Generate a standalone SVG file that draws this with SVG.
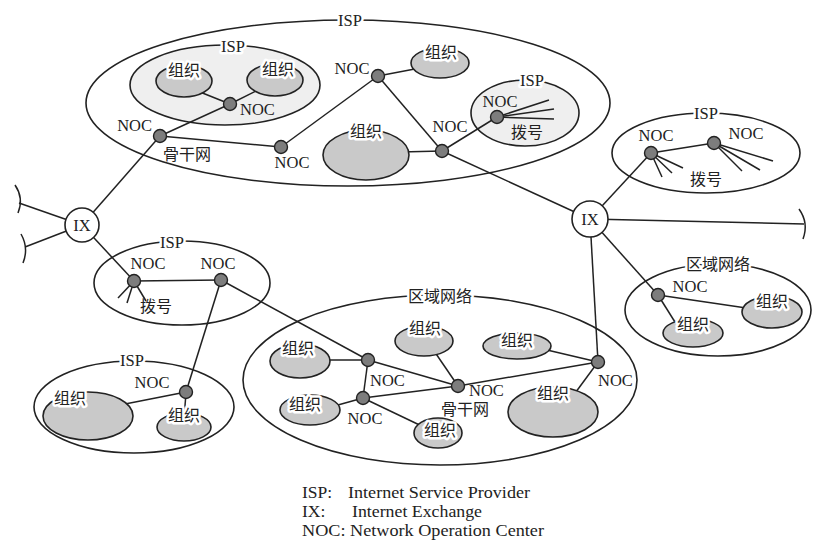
<svg xmlns="http://www.w3.org/2000/svg" width="840" height="548" viewBox="0 0 840 548">
<style>
.box{fill:#fff;stroke:#222;stroke-width:1.6}
.lbox{fill:#efefef;stroke:#222;stroke-width:1.6}
.org{fill:#c9c9c9;stroke:#222;stroke-width:1.6}
.dot{fill:#7d7d7d;stroke:#222;stroke-width:1.4}
.ix{fill:#fff;stroke:#222;stroke-width:1.6}
.ln{stroke:#222;stroke-width:1.5;fill:none}
text{font-family:"Liberation Serif","Noto Sans CJK SC",serif;fill:#222;font-size:16.5px}
.zh{font-family:"Liberation Serif","Noto Sans CJK SC",sans-serif;font-size:16px}
.halo{stroke:#fff;stroke-width:5;paint-order:stroke;stroke-linejoin:round}
.c{text-anchor:middle}
.e{text-anchor:end}
.lg{font-size:17.5px}
</style>
<rect width="840" height="548" fill="#fff"/>
<g id="containers">
<g id="isp-top"><ellipse class="box" cx="348" cy="103" rx="262" ry="83"/><text class="c halo" x="350" y="26">ISP</text></g>
<g id="isp-inner"><ellipse class="lbox" cx="225" cy="85" rx="95" ry="40"/><text class="c halo" x="233" y="52">ISP</text></g>
<g id="isp-dial"><ellipse class="lbox" cx="525" cy="113" rx="54" ry="33"/><text class="c halo" x="532" y="86">ISP</text></g>
<g id="isp-right"><ellipse class="box" cx="706" cy="153" rx="94" ry="40"/><text class="c halo" x="706" y="119">ISP</text></g>
<g id="isp-left"><ellipse class="box" cx="182" cy="283" rx="88" ry="42"/><text class="c halo" x="172" y="248">ISP</text></g>
<g id="isp-lowleft"><ellipse class="box" cx="134" cy="407" rx="100" ry="46"/><text class="c halo" x="132" y="366">ISP</text></g>
<g id="region-center"><ellipse class="box" cx="440" cy="380" rx="197" ry="85"/><text class="c zh halo" x="440" y="302">区域网络</text></g>
<g id="region-right"><ellipse class="box" cx="718" cy="310" rx="93" ry="46"/><text class="c zh halo" x="718" y="270">区域网络</text></g>
</g>
<g id="connectors" class="ln">
<line x1="160" y1="136" x2="230" y2="104"/>
<line x1="230" y1="104" x2="200" y2="92"/>
<line x1="230" y1="104" x2="262" y2="88"/>
<line x1="160" y1="136" x2="281" y2="147"/>
<line x1="281" y1="147" x2="378" y2="76"/>
<line x1="378" y1="76" x2="420" y2="68"/>
<line x1="378" y1="76" x2="442" y2="151"/>
<line x1="442" y1="151" x2="400" y2="152"/>
<line x1="442" y1="151" x2="497" y2="117"/>
<line x1="442" y1="151" x2="590" y2="219"/>
<line x1="497" y1="117" x2="549" y2="100"/>
<line x1="497" y1="117" x2="554" y2="109"/>
<line x1="497" y1="117" x2="554" y2="119"/>
<line x1="160" y1="136" x2="82" y2="225"/>
<line x1="82" y1="225" x2="19" y2="203"/>
<line x1="82" y1="225" x2="25" y2="247"/>
<path d="M15,185 Q24,198 18,213"/>
<path d="M21,234 Q29,248 23,263"/>
<line x1="82" y1="225" x2="134" y2="281"/>
<line x1="134" y1="281" x2="221" y2="280"/>
<line x1="134" y1="281" x2="118" y2="298"/>
<line x1="134" y1="281" x2="127" y2="303"/>
<line x1="134" y1="281" x2="146" y2="301"/>
<line x1="221" y1="280" x2="186" y2="392"/>
<line x1="221" y1="280" x2="368" y2="360"/>
<line x1="186" y1="392" x2="120" y2="405"/>
<line x1="186" y1="392" x2="184" y2="420"/>
<line x1="590" y1="219" x2="804" y2="224"/>
<path d="M799,209 Q809,223 803,239"/>
<line x1="590" y1="219" x2="651" y2="153"/>
<line x1="651" y1="153" x2="714" y2="143"/>
<line x1="651" y1="153" x2="662" y2="177"/>
<line x1="651" y1="153" x2="672" y2="173"/>
<line x1="651" y1="153" x2="683" y2="168"/>
<line x1="714" y1="143" x2="742" y2="171"/>
<line x1="714" y1="143" x2="760" y2="170"/>
<line x1="714" y1="143" x2="773" y2="161"/>
<line x1="590" y1="219" x2="598" y2="362"/>
<line x1="590" y1="219" x2="658" y2="295"/>
<line x1="658" y1="295" x2="760" y2="310"/>
<line x1="658" y1="295" x2="680" y2="330"/>
<line x1="368" y1="360" x2="310" y2="360"/>
<line x1="368" y1="360" x2="363" y2="398"/>
<line x1="368" y1="360" x2="458" y2="386"/>
<line x1="363" y1="398" x2="458" y2="386"/>
<line x1="363" y1="398" x2="320" y2="410"/>
<line x1="363" y1="398" x2="430" y2="430"/>
<line x1="458" y1="386" x2="430" y2="345"/>
<line x1="458" y1="386" x2="598" y2="362"/>
<line x1="598" y1="362" x2="530" y2="346"/>
<line x1="598" y1="362" x2="570" y2="400"/>
</g>
<g id="orgs">
<g id="org-t1"><ellipse class="org" cx="184" cy="81" rx="28" ry="16"/><text class="c zh halo" x="184" y="76">组织</text></g>
<g id="org-t2"><ellipse class="org" cx="275" cy="80" rx="28" ry="16"/><text class="c zh halo" x="278" y="75">组织</text></g>
<g id="org-t3"><ellipse class="org" cx="440" cy="63" rx="29" ry="15"/><text class="c zh halo" x="441" y="58">组织</text></g>
<g id="org-t4"><ellipse class="org" cx="366" cy="155" rx="43" ry="25"/><text class="c zh halo" x="366" y="137">组织</text></g>
<g id="org-ll1"><ellipse class="org" cx="88" cy="416" rx="45" ry="24"/><text class="c zh halo" x="70" y="404">组织</text></g>
<g id="org-ll2"><ellipse class="org" cx="184" cy="427" rx="27" ry="14"/><text class="c zh halo" x="184" y="421">组织</text></g>
<g id="org-c1"><ellipse class="org" cx="300" cy="361" rx="30" ry="17"/><text class="c zh halo" x="298" y="354">组织</text></g>
<g id="org-c2"><ellipse class="org" cx="424" cy="341" rx="29" ry="15"/><text class="c zh halo" x="425" y="334">组织</text></g>
<g id="org-c3"><ellipse class="org" cx="517" cy="346" rx="34" ry="13"/><text class="c zh halo" x="517" y="346">组织</text></g>
<g id="org-c4"><ellipse class="org" cx="310" cy="410" rx="30" ry="15"/><text class="c zh halo" x="305" y="410">组织</text></g>
<g id="org-c5"><ellipse class="org" cx="438" cy="433" rx="24" ry="15"/><text class="c zh halo" x="440" y="436">组织</text></g>
<g id="org-c6"><ellipse class="org" cx="553" cy="412" rx="45" ry="25"/><text class="c zh halo" x="553" y="399">组织</text></g>
<g id="org-r1"><ellipse class="org" cx="772" cy="312" rx="30" ry="16"/><text class="c zh halo" x="772" y="307">组织</text></g>
<g id="org-r2"><ellipse class="org" cx="693" cy="333" rx="30" ry="14"/><text class="c zh halo" x="693" y="330">组织</text></g>
</g>
<g id="ix-nodes">
<g id="ix-left"><circle class="ix" cx="82" cy="225" r="17"/><text class="c" x="82" y="231">IX</text></g>
<g id="ix-right"><circle class="ix" cx="590" cy="219" r="18"/><text class="c" x="590" y="225">IX</text></g>
</g>
<g id="nocs">
<g id="noc-inner"><circle class="dot" cx="230" cy="104" r="6.5"/><text x="240" y="115">NOC</text></g>
<g id="noc-left"><circle class="dot" cx="160" cy="136" r="6.5"/><text class="e" x="152" y="131">NOC</text><text class="zh" x="163" y="160">骨干网</text></g>
<g id="noc-bottom"><circle class="dot" cx="281" cy="147" r="6.5"/><text class="c" x="292" y="168">NOC</text></g>
<g id="noc-top"><circle class="dot" cx="378" cy="76" r="6.5"/><text class="c" x="352" y="74">NOC</text></g>
<g id="noc-right"><circle class="dot" cx="442" cy="151" r="6.5"/><text class="c" x="450" y="132">NOC</text></g>
<g id="noc-dial"><circle class="dot" cx="497" cy="117" r="6.5"/><text class="c" x="500" y="107">NOC</text><text class="c zh" x="527" y="138">拨号</text></g>
<g id="noc-r1"><circle class="dot" cx="651" cy="153" r="6.5"/><text class="c" x="656" y="141">NOC</text></g>
<g id="noc-r2"><circle class="dot" cx="714" cy="143" r="6.5"/><text class="c" x="746" y="139">NOC</text><text class="c zh" x="706" y="185">拨号</text></g>
<g id="noc-l1"><circle class="dot" cx="134" cy="281" r="6.5"/><text class="c" x="148" y="269">NOC</text><text class="c zh" x="156" y="312">拨号</text></g>
<g id="noc-l2"><circle class="dot" cx="221" cy="280" r="6.5"/><text class="c" x="218" y="269">NOC</text></g>
<g id="noc-ll"><circle class="dot" cx="186" cy="392" r="6.5"/><text class="c" x="152" y="388">NOC</text></g>
<g id="noc-ca"><circle class="dot" cx="368" cy="360" r="6.5"/><text x="370" y="386">NOC</text></g>
<g id="noc-cb"><circle class="dot" cx="363" cy="398" r="6.5"/><text class="c" x="365" y="424">NOC</text></g>
<g id="noc-cc"><circle class="dot" cx="458" cy="386" r="6.5"/><text x="469" y="396">NOC</text><text class="c zh" x="465" y="415">骨干网</text></g>
<g id="noc-cd"><circle class="dot" cx="598" cy="362" r="6.5"/><text x="598" y="386">NOC</text></g>
<g id="noc-rr"><circle class="dot" cx="658" cy="295" r="6.5"/><text class="c" x="690" y="292">NOC</text></g>
</g>
<g id="legend">
<text class="lg" x="302" y="498">ISP:</text><text class="lg" x="348" y="498" textLength="182" lengthAdjust="spacingAndGlyphs">Internet Service Provider</text>
<text class="lg" x="302" y="517">IX:</text><text class="lg" x="352" y="517" textLength="130" lengthAdjust="spacingAndGlyphs">Internet Exchange</text>
<text class="lg" x="302" y="536" textLength="242" lengthAdjust="spacingAndGlyphs">NOC: Network Operation Center</text>
</g>
</svg>
